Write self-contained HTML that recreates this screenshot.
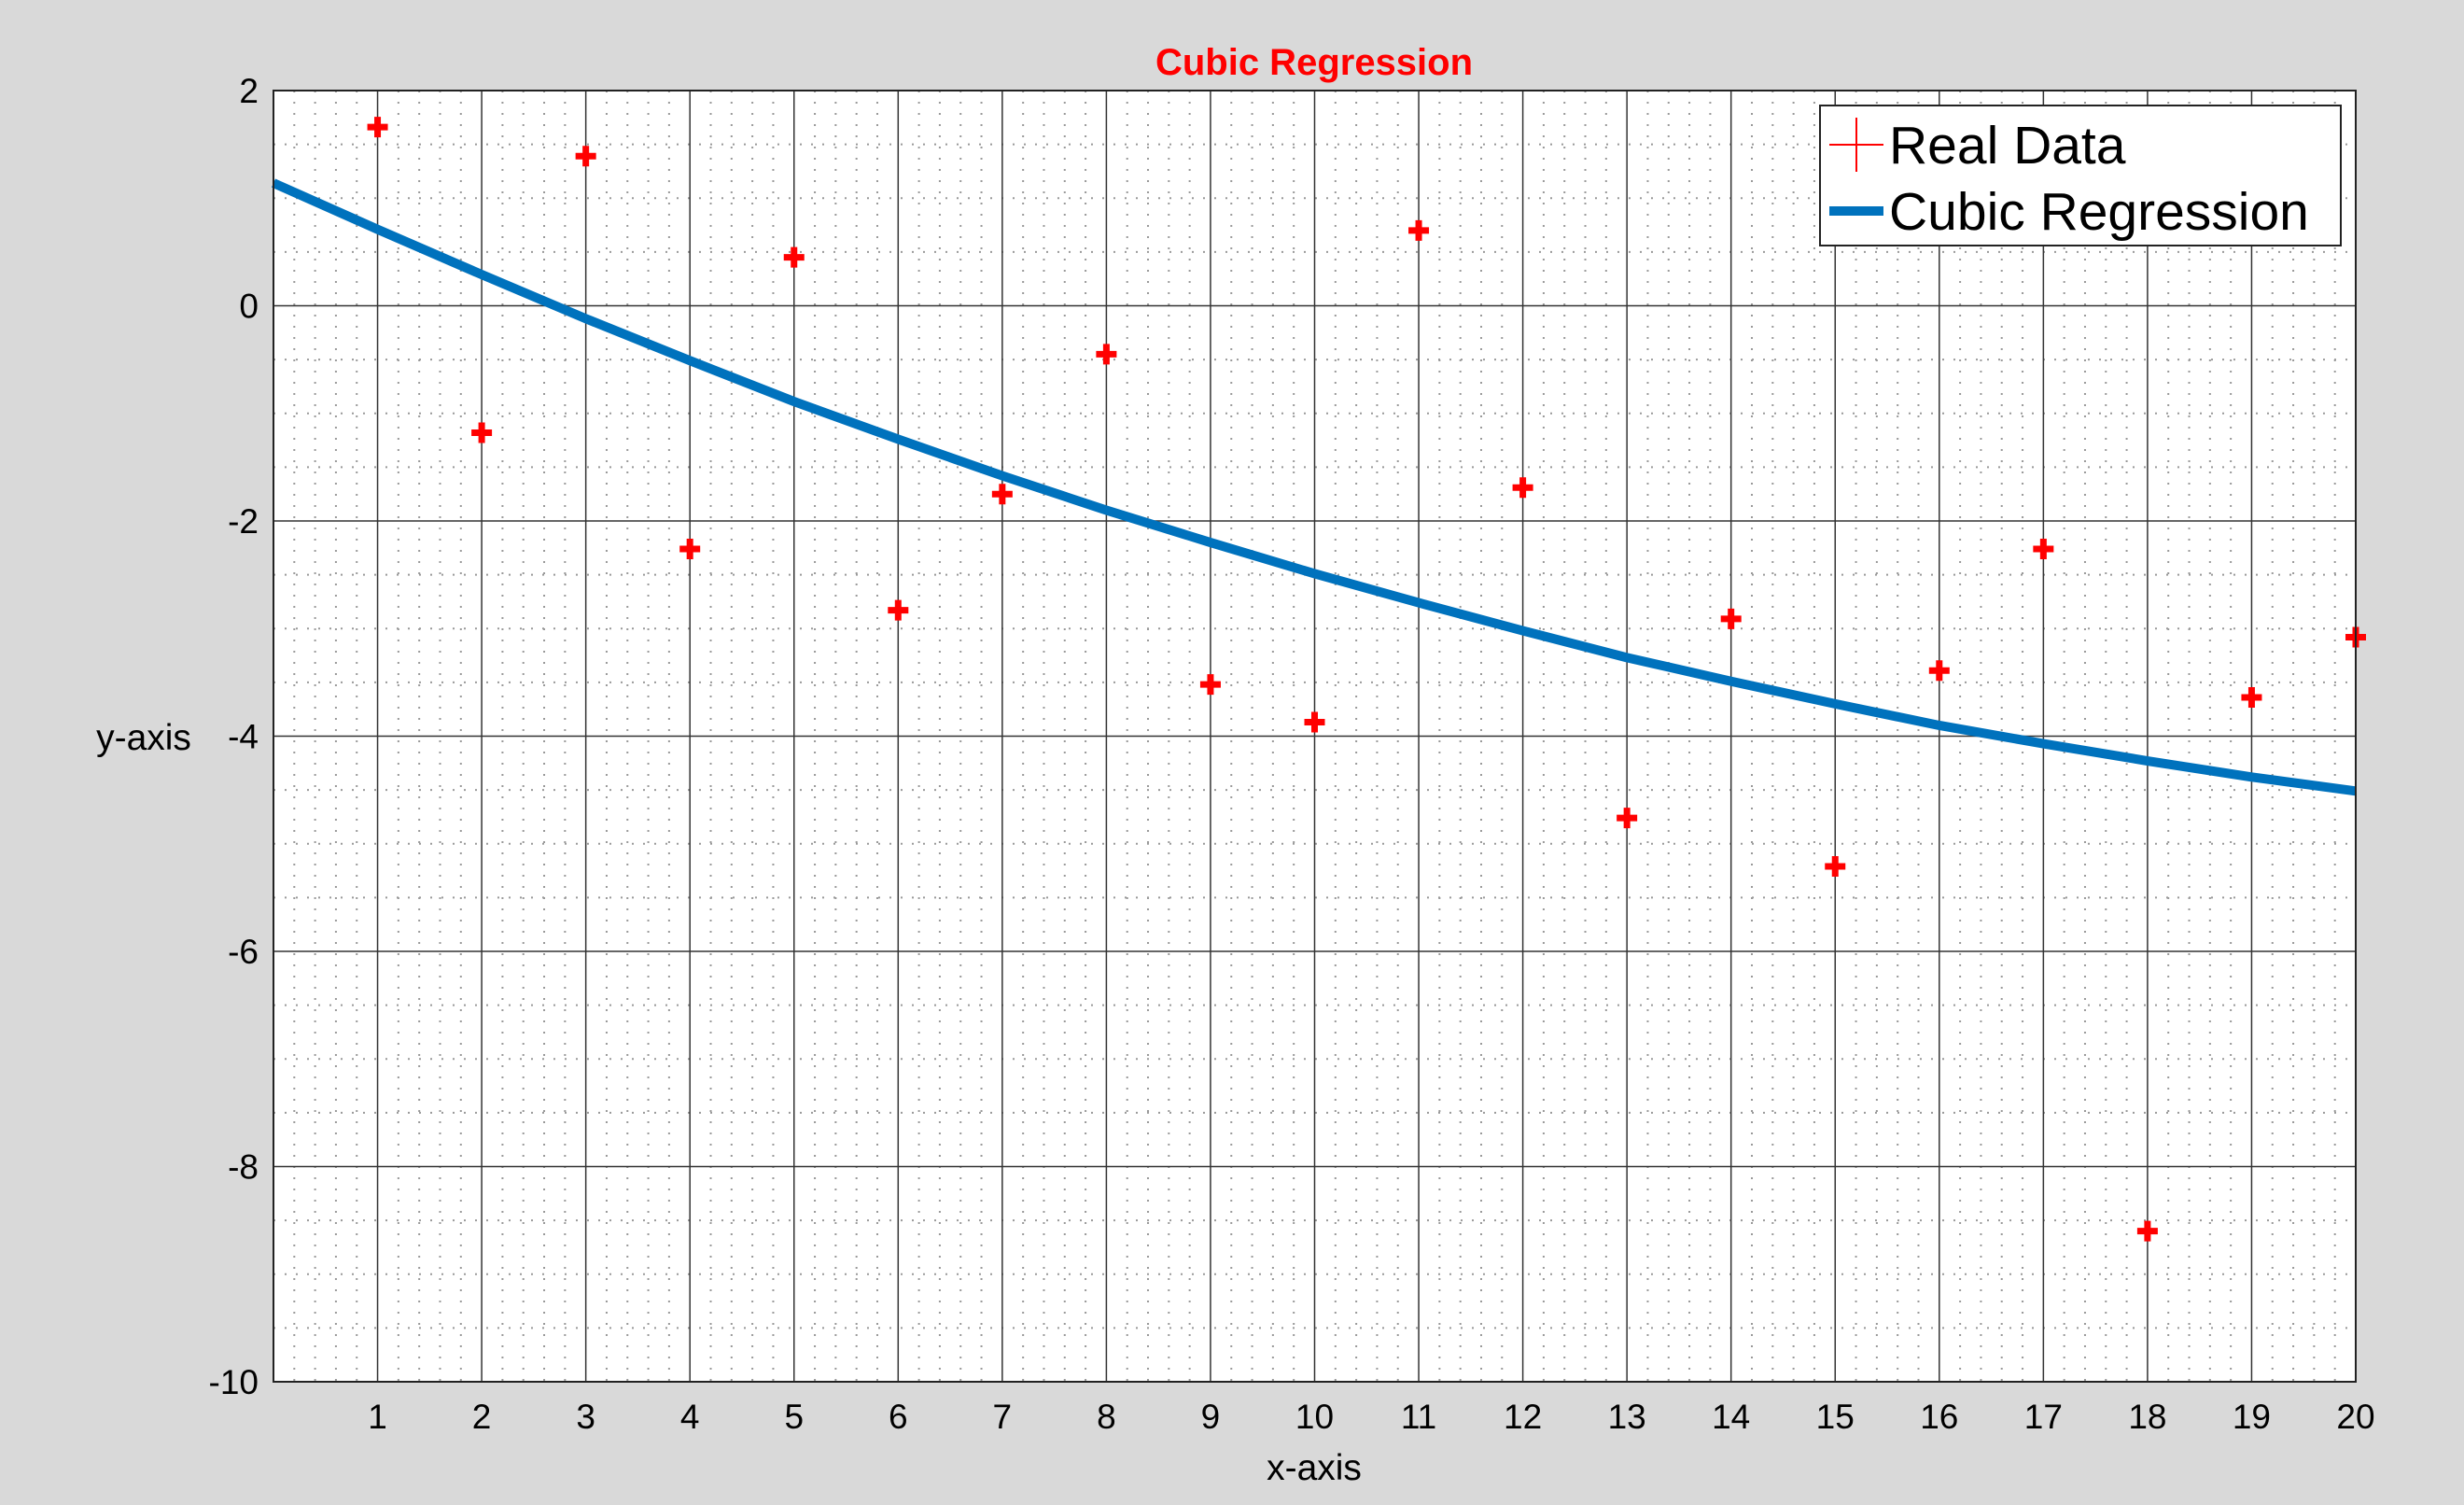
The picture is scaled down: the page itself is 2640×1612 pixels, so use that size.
<!DOCTYPE html>
<html><head><meta charset="utf-8"><style>
html,body{margin:0;padding:0;background:#d9d9d9;}
svg{display:block;font-family:"Liberation Sans",Arial,sans-serif;}
</style></head><body>
<svg id="chart" width="2640" height="1612" viewBox="0 0 2640 1612" xmlns="http://www.w3.org/2000/svg">
<rect x="0" y="0" width="2640" height="1612" fill="#d9d9d9"/>
<rect id="plotbg" fill="#fff"/>
<g id="grid"></g>
<g id="series"></g>
<g id="axes"></g>
<text x="1408" y="80" text-anchor="middle" font-size="40" font-weight="bold" fill="#ff0000">Cubic Regression</text>
<text x="154" y="803" text-anchor="middle" font-size="39" fill="#000">y-axis</text>
<text x="1408" y="1585" text-anchor="middle" font-size="39" fill="#000">x-axis</text>
<g>
<rect x="1950" y="113" width="558" height="150" fill="#fff" stroke="#222" stroke-width="2"/>
<g>
<line x1="1960" y1="155" x2="2018" y2="155" stroke="#ff0000" stroke-width="2"/>
<line x1="1989" y1="126" x2="1989" y2="184" stroke="#ff0000" stroke-width="2"/>
<text x="2024" y="175" font-size="57" fill="#000">Real Data</text>
</g>
<g>
<line x1="1960" y1="226" x2="2018" y2="226" stroke="#0072bd" stroke-width="10"/>
<text x="2024" y="246" font-size="57" fill="#000">Cubic Regression</text>
</g>
</g>
</svg>
<script>
const dataX = [1,2,3,4,5,6,7,8,9,10,11,12,13,14,15,16,17,18,19,20];
const dataY = [1.66,-1.18,1.39,-2.26,0.45,-2.83,-1.75,-0.45,-3.52,-3.87,0.70,-1.69,-4.76,-2.91,-5.21,-3.39,-2.26,-8.60,-3.64,-3.08];
const fitX = [0,1,2,3,4,5,6,7,8,9,10,11,12,13,14,15,16,17,18,19,20];
const fitY = [1.14,0.71,0.29,-0.12,-0.51,-0.89,-1.24,-1.58,-1.90,-2.20,-2.49,-2.76,-3.02,-3.27,-3.49,-3.70,-3.90,-4.07,-4.23,-4.38,-4.51];
const xTicks = [1,2,3,4,5,6,7,8,9,10,11,12,13,14,15,16,17,18,19,20];
const yTicks = [2,0,-2,-4,-6,-8,-10];

const L=293,R=2524,T=97,B=1480,xmin=0,xmax=20,ymin=-10,ymax=2;
const sx=v=>L+(v-xmin)/(xmax-xmin)*(R-L);
const sy=v=>B-(v-ymin)/(ymax-ymin)*(B-T);
const NS='http://www.w3.org/2000/svg';
function mk(tag,attrs,parent){const e=document.createElementNS(NS,tag);for(const k in attrs)e.setAttribute(k,attrs[k]);parent.appendChild(e);return e;}
const bg=document.getElementById('plotbg');
bg.setAttribute('x',L);bg.setAttribute('y',T);bg.setAttribute('width',R-L);bg.setAttribute('height',B-T);
const grid=document.getElementById('grid'),axes=document.getElementById('axes'),series=document.getElementById('series');
for(let i=0;i<=100;i++){const v=xmin+i*0.2;if(i%5===0)continue;
 const l=mk('line',{x1:sx(v),x2:sx(v),y1:T,y2:B,stroke:'#999','stroke-width':2,'stroke-dasharray':'2 10'},grid);
 }
for(let i=0;i<=24;i++){const v=ymin+i*0.5;if(i%4===0)continue;
 const l=mk('line',{x1:L,x2:R,y1:sy(v),y2:sy(v),stroke:'#999','stroke-width':2,'stroke-dasharray':'2 10'},grid);
 }
xTicks.forEach(v=>{
 const l=mk('line',{x1:sx(v),x2:sx(v),y1:T,y2:B,stroke:'#333','stroke-width':1.5},grid);
 
 const t=mk('text',{x:sx(v),y:B+50,'text-anchor':'middle','font-size':37,fill:'#000'},axes);t.textContent=v;
 });
yTicks.forEach(v=>{
 const l=mk('line',{x1:L,x2:R,y1:sy(v),y2:sy(v),stroke:'#333','stroke-width':1.5},grid);
 
 const t=mk('text',{x:L-16,y:sy(v)+13,'text-anchor':'end','font-size':37,fill:'#000'},axes);t.textContent=v;
 });
const fr=mk('rect',{x:L,y:T,width:R-L,height:B-T,fill:'none',stroke:'#222','stroke-width':2},axes);

const pts=fitX.map((x,i)=>sx(x)+','+sy(fitY[i])).join(' ');
const pl=mk('polyline',{points:pts,fill:'none',stroke:'#0072bd','stroke-width':10,'stroke-linejoin':'round'},series);

dataX.forEach((x,i)=>{const cx=sx(x),cy=sy(dataY[i]);
 const p=mk('path',{d:`M${cx-11},${cy}H${cx+11}M${cx},${cy-11}V${cy+11}`,stroke:'#ff0000','stroke-width':7,fill:'none'},series);
 });
</script>
</body></html>
